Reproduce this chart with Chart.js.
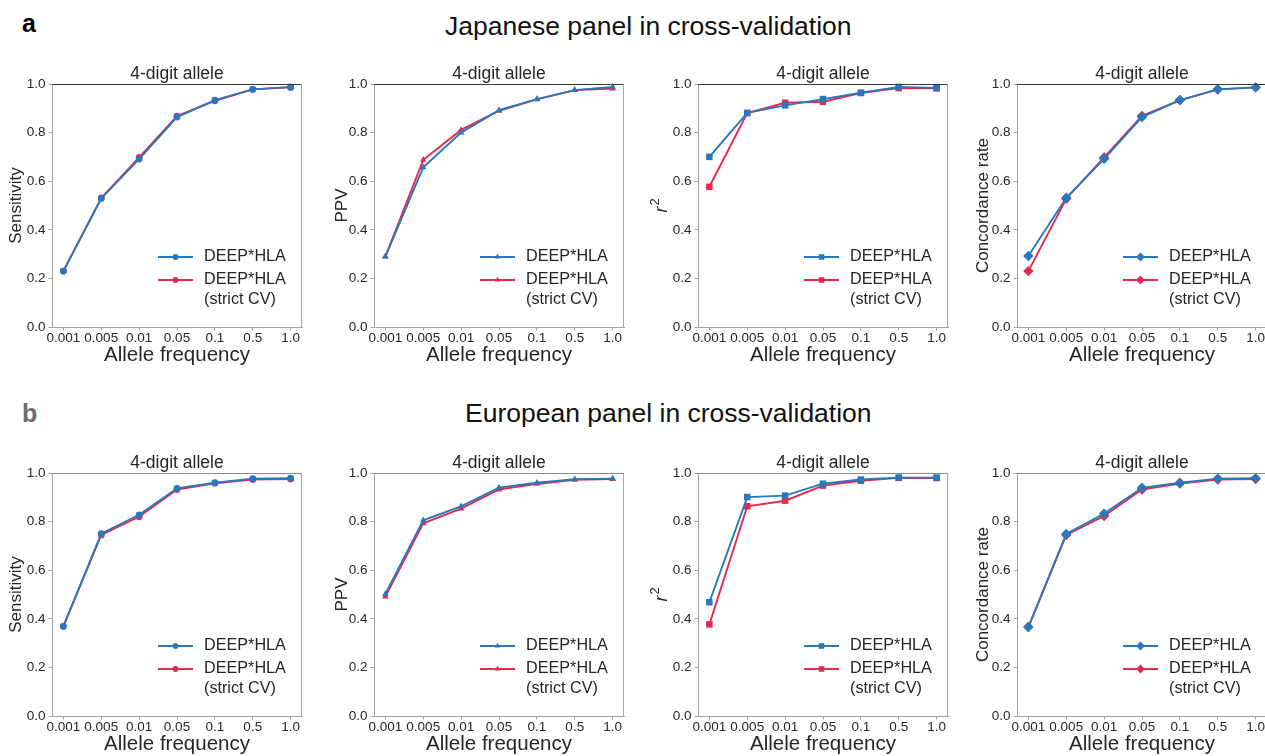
<!DOCTYPE html>
<html>
<head>
<meta charset="utf-8">
<title>DEEP*HLA cross-validation accuracy</title>
<script src="https://cdn.jsdelivr.net/npm/chart.js@4.4.1/dist/chart.umd.min.js"></script>
<style>
  html, body { margin: 0; padding: 0; background: #fff; }
  body { width: 1265px; height: 756px; position: relative; overflow: hidden;
         font-family: "Liberation Sans", Arial, sans-serif; }
  .tag { position: absolute; font-weight: bold; font-size: 25px; line-height: 1; }
  .row-title { position: absolute; font-size: 26.5px; line-height: 1; color: #111; white-space: nowrap; }
  canvas { position: absolute; }
</style>
</head>
<body>
<div class="tag" style="left:22px; top:10.8px; color:#000;">a</div>
<div class="row-title" style="left:445px; top:13.3px;">Japanese panel in cross-validation</div>
<div class="tag" style="left:22px; top:400.8px; color:#6b6b6b;">b</div>
<div class="row-title" style="left:465px; top:399.6px;">European panel in cross-validation</div>

<script>
// ---- data -------------------------------------------------------------
const freqLabels = ['0.001', '0.005', '0.01', '0.05', '0.1', '0.5', '1.0'];
const seriesNames = [['DEEP*HLA'], ['DEEP*HLA', '(strict CV)']];
const panelTitle = '4-digit allele';
const xTitle = 'Allele frequency';

// Japanese panel
const jpSensitivity        = [0.230, 0.529, 0.691, 0.864, 0.934, 0.978, 0.988];
const jpSensitivityStrict  = [0.230, 0.531, 0.698, 0.868, 0.931, 0.978, 0.986];
const jpPPV                = [0.290, 0.657, 0.800, 0.892, 0.938, 0.975, 0.988];
const jpPPVStrict          = [0.290, 0.688, 0.811, 0.890, 0.937, 0.975, 0.981];
const jpR2                 = [0.700, 0.881, 0.912, 0.938, 0.964, 0.988, 0.984];
const jpR2Strict           = [0.577, 0.880, 0.923, 0.927, 0.963, 0.983, 0.982];
const jpConcordance        = [0.292, 0.532, 0.692, 0.864, 0.934, 0.978, 0.986];
const jpConcordanceStrict  = [0.230, 0.528, 0.698, 0.869, 0.933, 0.978, 0.986];

// European panel
const euSensitivity        = [0.369, 0.750, 0.828, 0.937, 0.960, 0.977, 0.979];
const euSensitivityStrict  = [0.369, 0.745, 0.820, 0.932, 0.958, 0.973, 0.975];
const euPPV                = [0.502, 0.805, 0.863, 0.940, 0.960, 0.975, 0.977];
const euPPVStrict          = [0.491, 0.793, 0.853, 0.932, 0.955, 0.972, 0.975];
const euR2                 = [0.468, 0.901, 0.907, 0.956, 0.973, 0.981, 0.981];
const euR2Strict           = [0.377, 0.863, 0.886, 0.948, 0.968, 0.980, 0.979];
const euConcordance        = [0.366, 0.749, 0.833, 0.939, 0.960, 0.977, 0.979];
const euConcordanceStrict  = [0.366, 0.745, 0.823, 0.932, 0.957, 0.973, 0.975];

// ---- styling ----------------------------------------------------------
const FONT = '"Liberation Sans", Arial, sans-serif';
const BLUE = '#2878bd';
const RED = '#e8294f';
const SPINE = '#a5a5a5';
const TEXT = '#262626';

const metrics = [
  { yTitle: 'Sensitivity',      marker: 'circle',   radius: 3.4, titleX: 16.4 },
  { yTitle: 'PPV',              marker: 'triangle', radius: 3.8, titleX: 20.1 },
  { yTitle: null,               marker: 'rect',     radius: 4.6, titleX: 20.5 },  // r² drawn by plugin
  { yTitle: 'Concordance rate', marker: 'rectRot',  radius: 5.2, titleX: 18.8 }
];

const rows = [
  { top: 84,  topSpine: '#3a3a3a',
    series: [[jpSensitivity, jpSensitivityStrict], [jpPPV, jpPPVStrict],
             [jpR2, jpR2Strict], [jpConcordance, jpConcordanceStrict]] },
  { top: 473, topSpine: '#8a8a8a',
    series: [[euSensitivity, euSensitivityStrict], [euPPV, euPPVStrict],
             [euR2, euR2Strict], [euConcordance, euConcordanceStrict]] }
];

const colLefts = [52, 374, 698, 1017];
const AXIS_W = 52, AREA_W = 250, AREA_H = 243, TOP_BAND = 40, X_BAND = 45, RIGHT_PAD = 10;

// ---- plugins ----------------------------------------------------------
// closes the box: top and right spines
const framePlugin = {
  id: 'frame',
  afterDraw(chart, args, opts) {
    const { ctx, chartArea: a } = chart;
    ctx.save();
    ctx.lineWidth = 1;
    ctx.strokeStyle = opts.top;
    ctx.beginPath(); ctx.moveTo(a.left, a.top + 0.5); ctx.lineTo(a.right, a.top + 0.5); ctx.stroke();
    ctx.strokeStyle = opts.side;
    ctx.beginPath(); ctx.moveTo(a.right - 0.5, a.top); ctx.lineTo(a.right - 0.5, a.bottom); ctx.stroke();
    ctx.restore();
  }
};

// legend in the lower right of the plot area
const legendPlugin = {
  id: 'cornerLegend',
  afterDatasetsDraw(chart) {
    const { ctx, chartArea: a } = chart;
    const rowsY = [173, 196];
    ctx.save();
    chart.data.datasets.forEach((ds, i) => {
      const y = a.top + rowsY[i];
      const x0 = a.left + 106, x1 = a.left + 141;
      ctx.strokeStyle = ds.borderColor;
      ctx.lineWidth = ds.borderWidth;
      ctx.beginPath(); ctx.moveTo(x0, y); ctx.lineTo(x1, y); ctx.stroke();
      ctx.fillStyle = ds.borderColor;
      Chart.helpers.drawPoint(ctx, { pointStyle: ds.pointStyle, radius: ds.pointRadius * 0.85, rotation: 0, borderWidth: 0 },
                              (x0 + x1) / 2, y);
      ctx.fillStyle = TEXT;
      ctx.font = '16.2px ' + FONT;
      ctx.textBaseline = 'middle';
      ctx.textAlign = 'left';
      ds.label.forEach((line, k) => ctx.fillText(line, a.left + 152, y + k * 20));
    });
    ctx.restore();
  }
};

// italic r with superscript 2 as the y-axis title
const r2TitlePlugin = {
  id: 'r2Title',
  afterDraw(chart, args, opts) {
    if (!opts.show) return;
    const { ctx, chartArea: a } = chart;
    ctx.save();
    ctx.translate(opts.x, (a.top + a.bottom) / 2);
    ctx.rotate(-Math.PI / 2);
    ctx.fillStyle = TEXT;
    ctx.textBaseline = 'alphabetic';
    ctx.font = 'italic 18px ' + FONT;
    const rw = ctx.measureText('r').width;
    ctx.font = '13px ' + FONT;
    const tw = ctx.measureText('2').width;
    const start = -(rw + tw + 1) / 2;
    ctx.font = 'italic 18px ' + FONT;
    ctx.fillText('r', start, 0);
    ctx.font = '13px ' + FONT;
    ctx.fillText('2', start + rw + 1, -7.5);
    ctx.restore();
  }
};

// ---- build the eight panels --------------------------------------------
function points(values) { return values.map((v, i) => ({ x: i, y: v })); }

rows.forEach((row, r) => {
  metrics.forEach((m, c) => {
    const cv = document.createElement('canvas');
    const w = AXIS_W + AREA_W + RIGHT_PAD, h = TOP_BAND + AREA_H + X_BAND;
    cv.width = w; cv.height = h;
    cv.style.width = w + 'px'; cv.style.height = h + 'px';
    cv.style.left = (colLefts[c] - AXIS_W) + 'px';
    cv.style.top = (row.top - TOP_BAND) + 'px';
    document.body.appendChild(cv);

    const [main, strict] = row.series[c];
    const mk = (label, data, color) => ({
      label, data: points(data),
      borderColor: color, backgroundColor: color,
      borderWidth: 1.9, tension: 0,
      pointStyle: m.marker, pointRadius: m.radius,
      pointBackgroundColor: color, pointBorderWidth: 0, pointHoverRadius: m.radius,
      clip: false
    });

    new Chart(cv, {
      type: 'line',
      data: { datasets: [mk(seriesNames[0], main, BLUE), mk(seriesNames[1], strict, RED)] },
      options: {
        responsive: false,
        animation: false,
        events: [],
        layout: { padding: { left: 0, right: RIGHT_PAD, top: 0, bottom: 0 } },
        plugins: {
          legend: { display: false },
          tooltip: { enabled: false },
          title: {
            display: true, text: panelTitle, fullSize: false, color: TEXT,
            font: { family: FONT, size: 17.5, weight: 'normal', lineHeight: 1 },
            padding: { top: 21.25, bottom: 1.25 }
          },
          frame: { top: row.topSpine, side: SPINE },
          r2Title: { show: m.yTitle === null, x: m.titleX }
        },
        scales: {
          x: {
            type: 'linear', min: -0.3, max: 6.3,
            afterFit: s => { s.height = X_BAND; },
            afterBuildTicks: s => { s.ticks = freqLabels.map((_, i) => ({ value: i })); },
            ticks: {
              autoSkip: false, maxRotation: 0, padding: 0, color: TEXT,
              font: { family: FONT, size: 13.5 },
              callback: v => freqLabels[v]
            },
            grid: { drawOnChartArea: false, drawTicks: true, tickLength: 3.5, color: SPINE },
            border: { display: true, color: SPINE, width: 1 },
            title: {
              display: true, text: xTitle, color: TEXT,
              font: { family: FONT, size: 20.5, lineHeight: 1.2 },
              padding: { top: 0, bottom: 4.7 }
            }
          },
          y: {
            min: 0, max: 1,
            afterFit: s => { s.width = AXIS_W; },
            ticks: {
              stepSize: 0.2, padding: 3, color: TEXT,
              font: { family: FONT, size: 13.5 },
              callback: v => v.toFixed(1)
            },
            grid: { drawOnChartArea: false, drawTicks: true, tickLength: 3.5, color: SPINE },
            border: { display: true, color: SPINE, width: 1 },
            title: {
              display: m.yTitle !== null, text: m.yTitle || '', color: TEXT,
              font: { family: FONT, size: 17, lineHeight: 1.2 },
              padding: { top: m.titleX - 10.2, bottom: 0 }
            }
          }
        }
      },
      plugins: [framePlugin, legendPlugin, r2TitlePlugin]
    });
  });
});
</script>
</body>
</html>
